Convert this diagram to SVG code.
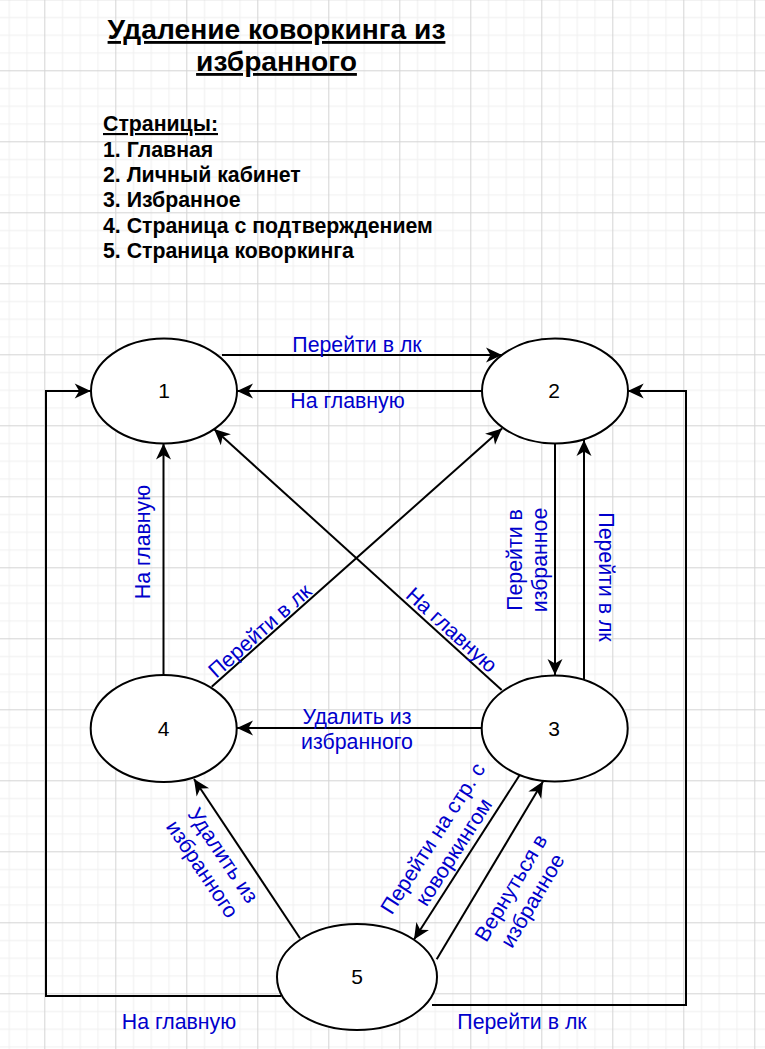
<svg xmlns="http://www.w3.org/2000/svg" width="765" height="1049" viewBox="0 0 765 1049">
<style>
text{font-family:"Liberation Sans",Arial,sans-serif}
.node ellipse{fill:#fff;stroke:#000;stroke-width:2}
.node text{font-size:21px;fill:#000;text-anchor:middle}
.edge path{fill:none;stroke:#000;stroke-width:2}
.lbl{font-size:21.3px;fill:#0000CC;text-anchor:middle}
.title{font-size:28.2px;font-weight:bold;text-anchor:middle;text-decoration:underline}
.list{font-size:21.3px;font-weight:bold}
</style>
<defs>
<pattern id="grid" x="44.3" y="-0.7" width="71" height="71" patternUnits="userSpaceOnUse">
<path d="M18.25,0V71M36,0V71M53.75,0V71M0,18.25H71M0,36H71M0,53.75H71" stroke="#efefef" stroke-width="1" fill="none"/>
<path d="M0.5,0V71M0,0.5H71" stroke="#d4d4d4" stroke-width="1" fill="none"/>
</pattern>
<marker id="arr" markerUnits="userSpaceOnUse" markerWidth="20" markerHeight="18" viewBox="-18 -9 20 18" refX="0" refY="0" orient="auto">
<path d="M0,0 L-16,-7.5 L-11.5,0 L-16,7.5 Z" fill="#000"/>
</marker>
</defs>
<rect width="765" height="1049" fill="#fff"/>
<rect width="765" height="1049" fill="url(#grid)"/>

<g id="title">
<text class="title" x="276.5" y="39">Удаление коворкинга из</text>
<text class="title" x="276.5" y="71">избранного</text>
</g>
<g id="legend">
<text class="list" x="103" y="131" text-decoration="underline">Страницы:</text>
<text class="list" x="103" y="156.5">1. Главная</text>
<text class="list" x="103" y="181.5">2. Личный кабинет</text>
<text class="list" x="103" y="206.5">3. Избранное</text>
<text class="list" x="103" y="232.5">4. Страница с подтверждением</text>
<text class="list" x="103" y="257.5">5. Страница коворкинга</text>
</g>

<g id="connectors" class="edge">
<path d="M222,355 L502,355" marker-end="url(#arr)"/>
<path d="M482,391 L237,391" marker-end="url(#arr)"/>
<path d="M163.5,675 L163.5,443.5" marker-end="url(#arr)"/>
<path d="M211.7,686.7 L502,428.6" marker-end="url(#arr)"/>
<path d="M501.7,690 L214,429" marker-end="url(#arr)"/>
<path d="M555,443.5 L555,675" marker-end="url(#arr)"/>
<path d="M584,679 L584,440" marker-end="url(#arr)"/>
<path d="M482,728 L237,728" marker-end="url(#arr)"/>
<path d="M300,938.3 L194,779" marker-end="url(#arr)"/>
<path d="M521,773 L414,939.5" marker-end="url(#arr)"/>
<path d="M436.7,959.3 L543,781.5" marker-end="url(#arr)"/>
<path d="M281,996 L46,996 L46,391 L90.7,391" marker-end="url(#arr)"/>
<path d="M432,1005 L686,1005 L686,391 L627.7,391" marker-end="url(#arr)"/>
</g>

<g id="edge-labels">
<text class="lbl" x="357" y="352">Перейти в лк</text>
<text class="lbl" x="347.5" y="407.5">На главную</text>
<text class="lbl" transform="translate(150,542) rotate(-90)">На главную</text>
<text class="lbl" transform="translate(264.6,636.2) rotate(-41.6)">Перейти в лк</text>
<text class="lbl" transform="translate(446.8,635.2) rotate(42.2)">На главную</text>
<text class="lbl" transform="translate(522,560) rotate(-90)"><tspan x="0" y="0">Перейти в</tspan><tspan x="0" y="25">избранное</tspan></text>
<text class="lbl" transform="translate(599,577) rotate(90)">Перейти в лк</text>
<text class="lbl"><tspan x="357" y="724">Удалить из</tspan><tspan x="357" y="749">избранного</tspan></text>
<text class="lbl" transform="translate(213,862) rotate(56.3)"><tspan x="0" y="-5">Удалить из</tspan><tspan x="0" y="20">избранного</tspan></text>
<text class="lbl" transform="translate(443,845) rotate(-57.3)"><tspan x="0" y="-5">Перейти на стр. с</tspan><tspan x="0" y="20">коворкингом</tspan></text>
<text class="lbl" transform="translate(521.5,894) rotate(-59.2)"><tspan x="0" y="-5">Вернуться в</tspan><tspan x="0" y="20">избранное</tspan></text>
<text class="lbl" x="179" y="1029">На главную</text>
<text class="lbl" x="522" y="1029">Перейти в лк</text>
</g>

<g id="node1" class="node"><ellipse cx="164" cy="391" rx="73" ry="52.5"/><text x="164" y="398">1</text></g>
<g id="node2" class="node"><ellipse cx="555" cy="391" rx="73" ry="52.5"/><text x="554" y="398">2</text></g>
<g id="node3" class="node"><ellipse cx="554.7" cy="728.5" rx="73" ry="53"/><text x="554" y="735.5">3</text></g>
<g id="node4" class="node"><ellipse cx="163.7" cy="728.5" rx="73" ry="53.5"/><text x="163.5" y="735.5">4</text></g>
<g id="node5" class="node"><ellipse cx="357" cy="977" rx="80" ry="53"/><text x="357" y="984">5</text></g>
</svg>
